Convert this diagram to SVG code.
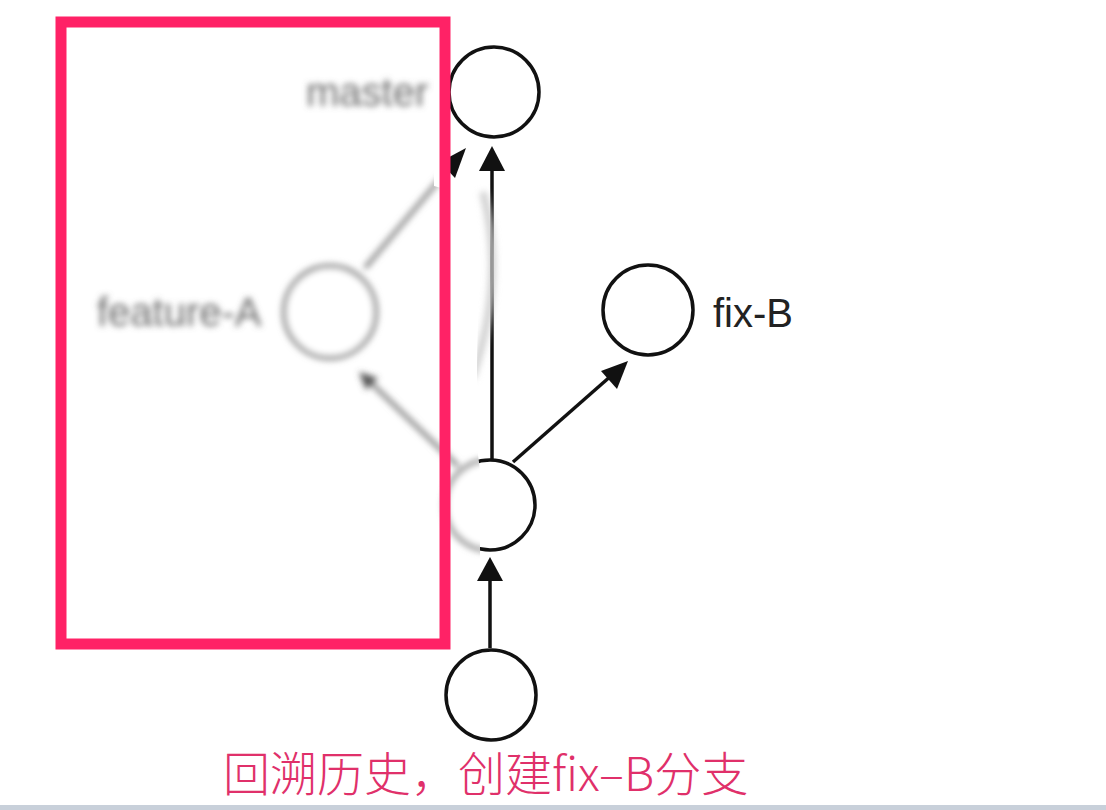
<svg xmlns="http://www.w3.org/2000/svg" width="1106" height="810" viewBox="0 0 1106 810">
<defs>
<style>
.node{fill:#fff;stroke:#111;stroke-width:3.5}
.edge{stroke:#111;stroke-width:3.5;fill:none}
.head{fill:#111}
.lbl{font-family:"Liberation Sans",Arial,sans-serif;font-size:40px;fill:#222}
.bnode{fill:#fff;stroke:#8a8a8a;stroke-width:4.5}
.bedge{stroke:#8a8a8a;stroke-width:4.5;fill:none}
.blbl{font-family:"Liberation Sans",Arial,sans-serif;font-size:40px;fill:#6a6a6a}
.cap{font-family:"Noto Sans CJK SC","Noto Sans",sans-serif;font-size:47px;fill:#E0306A;font-weight:300}
</style>
<filter id="blur" x="-20%" y="-20%" width="140%" height="140%"><feGaussianBlur stdDeviation="3.3"/></filter>
<filter id="soft" x="-50%" y="-50%" width="200%" height="200%"><feGaussianBlur stdDeviation="3"/></filter>
<clipPath id="leftRegion"><path d="M0 0 L434 0 L434 186 L470 196 L479 260 L476 440 L480 470 L480 556 L468 650 L0 650 Z"/></clipPath>
</defs>
<rect width="1106" height="810" fill="#fff"/>

<g id="connectors">
<line class="edge" x1="492" y1="460" x2="492" y2="168"/>
<polygon class="head" points="492,146 479,171 505,171"/>
<line class="edge" x1="490" y1="648" x2="490" y2="578"/>
<polygon class="head" points="490,557 477,581 503,581"/>
<line class="edge" x1="513" y1="462" x2="612" y2="375"/>
<polygon class="head" points="628,361 601,371 617,389"/>
<polygon class="head" points="466,148 440,162 455,178"/>
</g>

<g id="node-master"><circle class="node" cx="494" cy="92" r="45"/></g>
<g id="node-mid"><circle class="node" cx="490" cy="505" r="45"/></g>
<g id="node-fixB"><circle class="node" cx="648" cy="310" r="45"/><text class="lbl" x="713" y="327">fix-B</text></g>
<g id="node-bottom"><circle class="node" cx="491" cy="695" r="45"/></g>

<path d="M483 192 Q506 280 472 378" stroke="#cfcfcf" stroke-width="7" fill="none" filter="url(#soft)"/>

<g id="blurred" clip-path="url(#leftRegion)">
<path d="M0 0 L434 0 L434 186 L470 196 L479 260 L476 440 L480 470 L480 556 L468 650 L0 650 Z" fill="#fff"/>
<g filter="url(#blur)">
<line class="bedge" x1="365" y1="268" x2="452" y2="165"/>
<line class="bedge" x1="458" y1="466" x2="370" y2="382"/>
<polygon fill="#555" points="359,372 378,378 366,390"/>
<g id="node-featureA"><circle class="bnode" cx="330" cy="312" r="46"/><text class="blbl" x="97" y="326">feature-A</text></g>
<text class="blbl" x="306" y="106">master</text>
<circle class="bnode" cx="490" cy="505" r="45"/>
<line class="bedge" x1="490" y1="560" x2="490" y2="600"/>
</g>
</g>

<rect id="highlight" x="61" y="22" width="384" height="622" fill="none" stroke="#FF2266" stroke-width="11"/>

<text class="cap" x="223" y="791">回溯历史，创建fix–B分支</text>
<rect x="0" y="805" width="1106" height="5" fill="#c8d0da"/>
</svg>
